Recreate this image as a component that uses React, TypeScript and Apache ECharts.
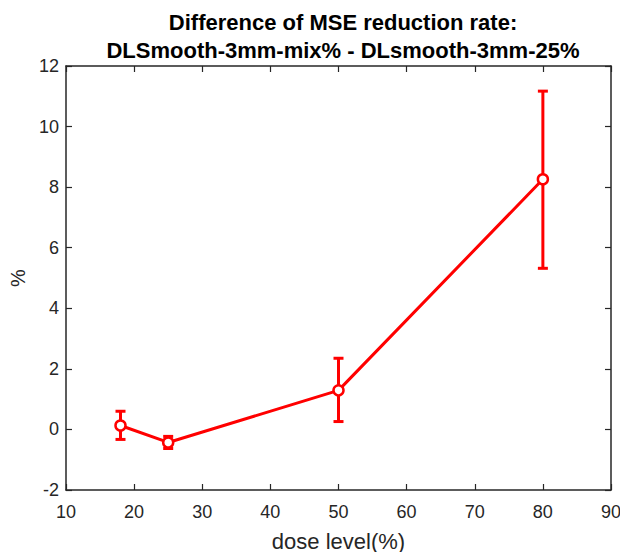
import React, { useEffect, useRef } from "react";
import * as echarts from "echarts";

const doseLevels = [18, 25, 50, 80];
const meanDiff = [0.13, -0.43, 1.29, 8.26];
const errLow = [-0.33, -0.63, 0.26, 5.32];
const errHigh = [0.6, -0.23, 2.35, 11.17];
const xTicks = [10, 20, 30, 40, 50, 60, 70, 80, 90];
const yTicks = [-2, 0, 2, 4, 6, 8, 10, 12];

export default function App() {
  const ref = useRef<HTMLDivElement>(null);
  useEffect(() => {
    const chart = echarts.init(ref.current!, undefined, { renderer: "svg" });
    const font = "'Liberation Sans', Arial, Helvetica, sans-serif";
    const axisColor = "#262626";
    const red = "#ff0000";
    const commonX = {
      type: "value" as const,
      min: xTicks[0],
      max: xTicks[xTicks.length - 1],
      interval: 10,
      splitLine: { show: false },
      axisLine: { show: true, onZero: false, lineStyle: { color: axisColor, width: 1.5 } },
      axisTick: { show: true, inside: true, length: 6, lineStyle: { color: axisColor, width: 1.2 } },
    };
    const commonY = {
      type: "value" as const,
      min: yTicks[0],
      max: yTicks[yTicks.length - 1],
      interval: 2,
      splitLine: { show: false },
      axisLine: { show: true, onZero: false, lineStyle: { color: axisColor, width: 1.5 } },
      axisTick: { show: true, inside: true, length: 6, lineStyle: { color: axisColor, width: 1.2 } },
    };
    chart.setOption({
      animation: false,
      backgroundColor: "#ffffff",
      title: {
        text: "Difference of MSE reduction rate:\nDLSmooth-3mm-mix% - DLsmooth-3mm-25%",
        left: 338,
        textAlign: "center",
        top: 3,
        textStyle: {
          fontFamily: font,
          fontSize: 22,
          fontWeight: "bold",
          color: "#000000",
          lineHeight: 28,
        },
      },
      grid: { left: 66, right: 9, top: 66, bottom: 62, containLabel: false, outerBoundsMode: "none" },
      xAxis: [
        {
          ...commonX,
          position: "bottom",
          name: "dose level(%)",
          nameLocation: "middle",
          nameGap: 40,
          nameTextStyle: { fontFamily: font, fontSize: 22, color: axisColor },
          axisLabel: { fontFamily: font, fontSize: 18, color: axisColor, margin: 13 },
        },
        { ...commonX, position: "top", axisLabel: { show: false } },
      ],
      yAxis: [
        {
          ...commonY,
          position: "left",
          name: "%",
          nameLocation: "middle",
          nameGap: 38,
          nameRotate: 90,
          nameTextStyle: { fontFamily: font, fontSize: 20, color: axisColor },
          axisLabel: { fontFamily: font, fontSize: 18, color: axisColor, margin: 7 },
        },
        { ...commonY, position: "right", axisLabel: { show: false } },
      ],
      series: [
        {
          type: "custom",
          xAxisIndex: 0,
          yAxisIndex: 0,
          data: doseLevels.map((x, i) => [x, errLow[i], errHigh[i]]),
          renderItem: (params: any, api: any) => {
            const x = api.value(0);
            const lo = api.coord([x, api.value(1)]);
            const hi = api.coord([x, api.value(2)]);
            const hw = 5;
            const style = { stroke: red, lineWidth: 3 };
            return {
              type: "group",
              children: [
                { type: "line", shape: { x1: lo[0], y1: lo[1], x2: hi[0], y2: hi[1] }, style },
                { type: "line", shape: { x1: lo[0] - hw, y1: lo[1], x2: lo[0] + hw, y2: lo[1] }, style },
                { type: "line", shape: { x1: hi[0] - hw, y1: hi[1], x2: hi[0] + hw, y2: hi[1] }, style },
              ],
            };
          },
          z: 2,
        },
        {
          type: "line",
          xAxisIndex: 0,
          yAxisIndex: 0,
          data: doseLevels.map((x, i) => [x, meanDiff[i]]),
          symbol: "circle",
          symbolSize: 10,
          itemStyle: { color: "#ffffff", borderColor: red, borderWidth: 2.5 },
          lineStyle: { color: red, width: 3 },
          z: 3,
        },
      ],
    });
    return () => chart.dispose();
  }, []);
  return (
    <div style={{ position: "fixed", left: 0, top: 0, width: 620, height: 552, background: "#fff" }}>
      <div ref={ref} style={{ width: 620, height: 552 }} />
    </div>
  );
}
